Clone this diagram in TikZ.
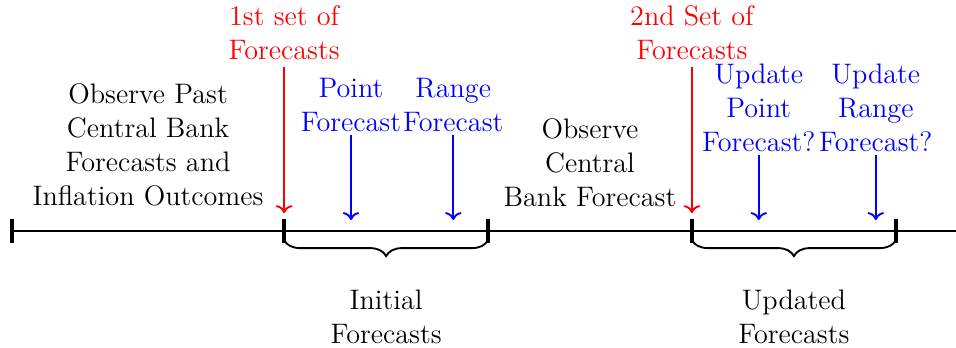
\documentclass[tikz,border=0pt]{standalone}
\usepackage{tikz}
\usetikzlibrary{arrows.meta, positioning, decorations.pathreplacing}
\tikzset{
    lbl/.style = {align=center, inner sep=0pt},
    setlbl/.style = {lbl, text=red, inner sep=0.105cm},
    fclbl/.style = {lbl, text=blue, inner sep=0.045cm},
    timeline/.style = {very thick, draw=black},
    tickmark/.style = {line width=2pt, draw=black},
    setarrow/.style = {thick, -{To}, draw=red},
    fcarrow/.style = {thick, -{To}, draw=blue},
    fcbrace/.style = {thick, decorate, decoration={brace, mirror, amplitude=0.24cm, raise=0.135cm}}
}

\begin{document}
\begin{tikzpicture}[font=\fontsize{12}{14.5}\selectfont]
        \useasboundingbox (0,-1.735) rectangle (14.30,3.456);

        % Timeline points
        \coordinate (t0) at (0.18,0);
        \coordinate (t1) at (4.25,0);
        \coordinate (t2) at (7.30,0);
        \coordinate (t3) at (10.35,0);
        \coordinate (t4) at (13.40,0);
        \coordinate (tend) at (14.30,0);

        % Arrow feet
        \coordinate (r1) at (4.25,0.269);
        \coordinate (r2) at (10.35,0.269);
        \coordinate (p1) at (5.25,0.165);
        \coordinate (p2) at (6.78,0.165);
        \coordinate (u1) at (11.35,0.165);
        \coordinate (u2) at (13.10,0.165);

        % Label anchors on the line
        \coordinate (m1) at (2.215,0);
        \coordinate (m2) at (8.825,0);
        \coordinate (b1) at (5.775,0);
        \coordinate (b2) at (11.875,0);

        % The line and its ticks
        \draw [timeline] (t0) -- (tend);
        \draw [tickmark] ([yshift=0.18cm]t0) -- ([yshift=-0.18cm]t0);
        \draw [tickmark] ([yshift=0.18cm]t1) -- ([yshift=-0.18cm]t1);
        \draw [tickmark] ([yshift=0.18cm]t2) -- ([yshift=-0.18cm]t2);
        \draw [tickmark] ([yshift=0.18cm]t3) -- ([yshift=-0.18cm]t3);
        \draw [tickmark] ([yshift=0.18cm]t4) -- ([yshift=-0.18cm]t4);

        % Periods between the ticks
        \node (past) [lbl, above=0.359cm of m1] {Observe Past\\Central Bank\\Forecasts and\\Inflation Outcomes};
        \node (observe) [lbl, above=0.359cm of m2] {Observe\\Central\\Bank Forecast};

        % Sets of forecasts (red)
        \node (set1) [setlbl, above=2.184cm of r1] {1st set of\\Forecasts};
        \node (set2) [setlbl, above=2.184cm of r2] {2nd Set of\\Forecasts};
        \draw [setarrow] (set1) -- (r1);
        \draw [setarrow] (set2) -- (r2);

        % Single forecasts (blue)
        \node (point) [fclbl, above=1.271cm of p1] {Point\\Forecast};
        \node (range) [fclbl, above=1.271cm of p2] {Range\\Forecast};
        \node (upoint) [fclbl, above=0.972cm of u1] {Update\\Point\\Forecast?};
        \node (urange) [fclbl, above=0.972cm of u2] {Update\\Range\\Forecast?};
        \draw [fcarrow] (point) -- (p1);
        \draw [fcarrow] (range) -- (p2);
        \draw [fcarrow] (upoint) -- (u1);
        \draw [fcarrow] (urange) -- (u2);

        % Braces and their labels
        \draw [fcbrace] (t1) -- (t2);
        \draw [fcbrace] (t3) -- (t4);
        \node (initial) [lbl, below=0.868cm of b1] {Initial\\Forecasts};
        \node (updated) [lbl, below=0.868cm of b2] {Updated\\Forecasts};
    \end{tikzpicture}
\end{document}
